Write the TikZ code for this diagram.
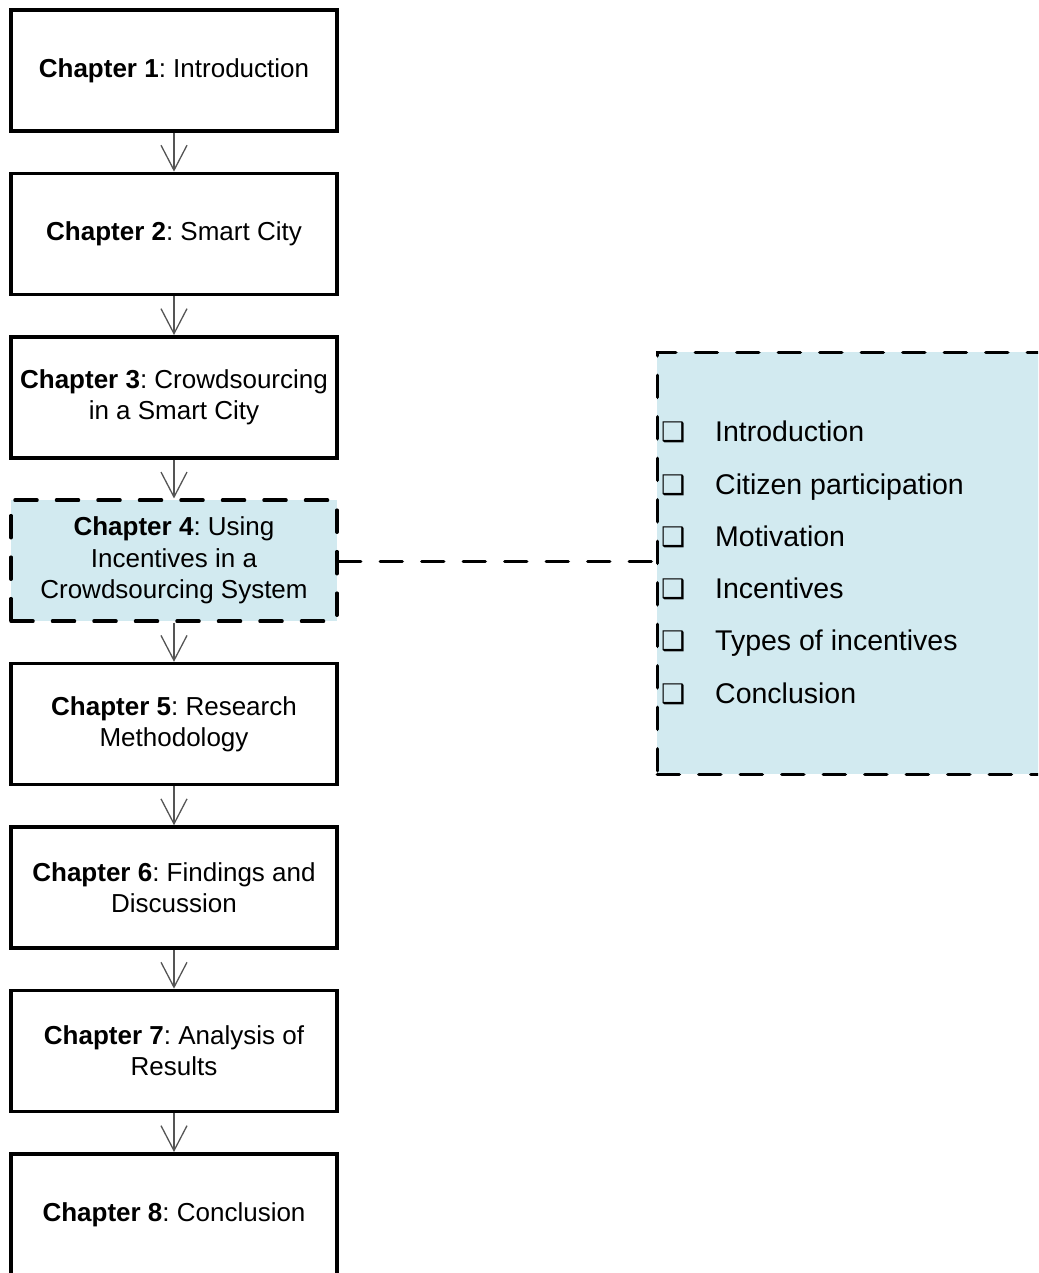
\documentclass[tikz,border=0pt]{standalone}
\usepackage{fontspec}
\setmainfont{Liberation Sans}
\newfontfamily\symfont{DejaVu Sans}
\usetikzlibrary{arrows.meta,calc}
\frenchspacing

\definecolor{panelblue}{HTML}{D2EAF0}
\definecolor{stemgray}{HTML}{555555}

\tikzset{
  longdash/.style={line width=3.5pt, line cap=round, dash pattern=on 22pt off 19.5pt},
  chapter/.style={draw=black, line width=3.5pt, minimum width=326pt, minimum height=121pt,
    align=center, inner sep=0pt, font=\fontsize{26}{31.5}\selectfont},
  focusbox/.style={chapter, fill=panelblue, longdash},
  flow/.style={draw=stemgray, line width=1.3pt,
    -{Straight Barb[length=25pt,width=26pt,line width=1.3pt]}},
  link/.style={draw=black, longdash},
  panel/.style={draw=black, fill=panelblue, longdash},
  item/.style={anchor=base west, inner sep=0pt, font=\fontsize{28.5}{33}\selectfont},
  tick/.style={anchor=base west, inner sep=0pt, font=\symfont\fontsize{27}{30}\selectfont},
}

\begin{document}
\begin{tikzpicture}[x=1pt, y=-1pt]
  \path[use as bounding box] (0,0) rectangle (1038,1273);
  \clip (0,0) rectangle (1038,1273);

  % chapter boxes down the left column
  \node[chapter]  (c1) at (174, 70.5)  {\textbf{Chapter 1}: Introduction};
  \node[chapter]  (c2) at (174, 233.9) {\textbf{Chapter 2}: Smart City};
  \node[chapter]  (c3) at (174, 397.3) {\textbf{Chapter 3}: Crowdsourcing\\in a Smart City};
  \node[focusbox] (c4) at (174, 560.7) {\textbf{Chapter 4}: Using\\Incentives in a\\Crowdsourcing System};
  \node[chapter]  (c5) at (174, 724.1) {\textbf{Chapter 5}: Research\\Methodology};
  \node[chapter]  (c6) at (174, 887.5) {\textbf{Chapter 6}: Findings and\\Discussion};
  \node[chapter]  (c7) at (174, 1050.9) {\textbf{Chapter 7}: Analysis of\\Results};
  \node[chapter]  (c8) at (174, 1214.3) {\textbf{Chapter 8}: Conclusion};

  % flow arrows between chapters
  \foreach \a/\b in {c1/c2, c2/c3, c3/c4, c4/c5, c5/c6, c6/c7, c7/c8}
    \draw[flow] (\a.south) -- (\b.north);

  % detail panel for chapter 4
  \node[panel, minimum width=400pt, minimum height=422pt, inner sep=0pt] (panel) at (857.3, 563.3) {};

  \draw[link] (c4.east) ++(0,1) coordinate (l0) -- (l0 -| panel.west);

  % section list
  \foreach \t [count=\i from 0] in {Introduction, Citizen participation, Motivation,
      Incentives, Types of incentives, Conclusion} {
    \node[tick] (b\i) at (661, 441.7+52.3*\i) {❑};
    \node[item] (t\i) at (715, 441.7+52.3*\i) {\t};
  }
\end{tikzpicture}
\end{document}
